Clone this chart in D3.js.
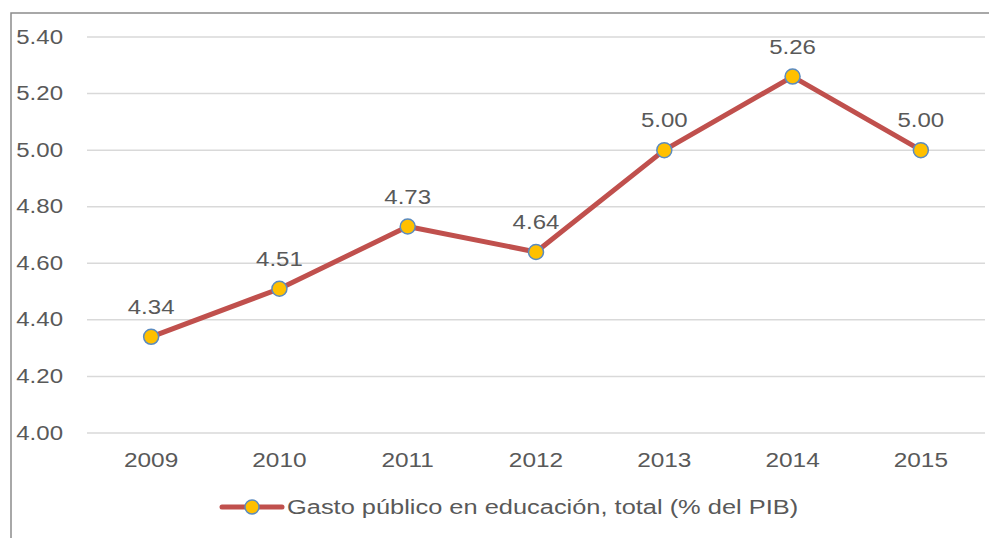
<!DOCTYPE html>
<html><head><meta charset="utf-8">
<script src="https://cdn.jsdelivr.net/npm/d3@7"></script>
<style>
html,body{margin:0;padding:0;background:#fff;}
svg{display:block;}
text{font-family:"Liberation Sans",Arial,sans-serif;fill:#595959;}
</style></head>
<body>
<svg id="chart" width="989" height="538"></svg>
<script>
const years = ["2009","2010","2011","2012","2013","2014","2015"];
const values = [4.34, 4.51, 4.73, 4.64, 5.00, 5.26, 5.00];
const labels = ["4.34","4.51","4.73","4.64","5.00","5.26","5.00"];
const yTicks = [4.00, 4.20, 4.40, 4.60, 4.80, 5.00, 5.20, 5.40];
const seriesName = "Gasto público en educación, total (% del PIB)";

const W = 989, H = 538;
const plot = {left: 87, right: 985, top: 37, bottom: 433};
const svg = d3.select("#chart");

// outer border (left and top)
svg.append("path").attr("d", `M11,${H} L11,13 L${W},13`)
  .attr("fill","none").attr("stroke","#8c8c8c").attr("stroke-width",1.5);

const x = d3.scaleBand().domain(years).range([plot.left, plot.right]);
const y = d3.scaleLinear().domain([4.0, 5.4]).range([plot.bottom, plot.top]);

function stretchText(sel, k){
  sel.each(function(){
    const l = this.getComputedTextLength();
    d3.select(this).attr("textLength", l*k).attr("lengthAdjust","spacingAndGlyphs");
  });
}

// gridlines
svg.append("g").selectAll("line").data(yTicks).join("line")
  .attr("x1", plot.left).attr("x2", plot.right)
  .attr("y1", d=>y(d)).attr("y2", d=>y(d))
  .attr("stroke","#d9d9d9").attr("stroke-width",1.5);

// y labels
svg.append("g").selectAll("text").data(yTicks).join("text")
  .attr("x", 63).attr("y", d=>y(d)+6.5)
  .attr("text-anchor","end").attr("font-size",20)
  .text(d=>d3.format(".2f")(d)).call(stretchText, 1.2);

// x labels
svg.append("g").selectAll("text").data(years).join("text")
  .attr("x", d=>x(d)+x.bandwidth()/2).attr("y", 467)
  .attr("text-anchor","middle").attr("font-size",20)
  .text(d=>d).call(stretchText, 1.22);

const pts = years.map((yr,i)=>({yr, v: values[i], lab: labels[i]}));
const line = d3.line().x(d=>x(d.yr)+x.bandwidth()/2).y(d=>y(d.v));

svg.append("path").datum(pts).attr("d", line)
  .attr("fill","none").attr("stroke","#C0504D").attr("stroke-width",5)
  .attr("stroke-linejoin","round");

svg.append("g").selectAll("circle").data(pts).join("circle")
  .attr("cx", d=>x(d.yr)+x.bandwidth()/2).attr("cy", d=>y(d.v)).attr("r",7.5)
  .attr("fill","#FFC000").attr("stroke","#5B8BC0").attr("stroke-width",1.5);

svg.append("g").selectAll("text").data(pts).join("text")
  .attr("x", d=>x(d.yr)+x.bandwidth()/2).attr("y", d=>y(d.v)-23)
  .attr("text-anchor","middle").attr("font-size",20)
  .text(d=>d.lab).call(stretchText, 1.2);

// legend
const lg = svg.append("g");
lg.append("line").attr("x1",222).attr("x2",282).attr("y1",507).attr("y2",507)
  .attr("stroke","#C0504D").attr("stroke-width",5).attr("stroke-linecap","round");
lg.append("circle").attr("cx",252).attr("cy",507).attr("r",7)
  .attr("fill","#FFC000").attr("stroke","#5B8BC0").attr("stroke-width",1.5);
lg.append("text").attr("x",287).attr("y",514).attr("font-size",20)
  .text(seriesName).call(stretchText, 1.27);
</script>
</body></html>
